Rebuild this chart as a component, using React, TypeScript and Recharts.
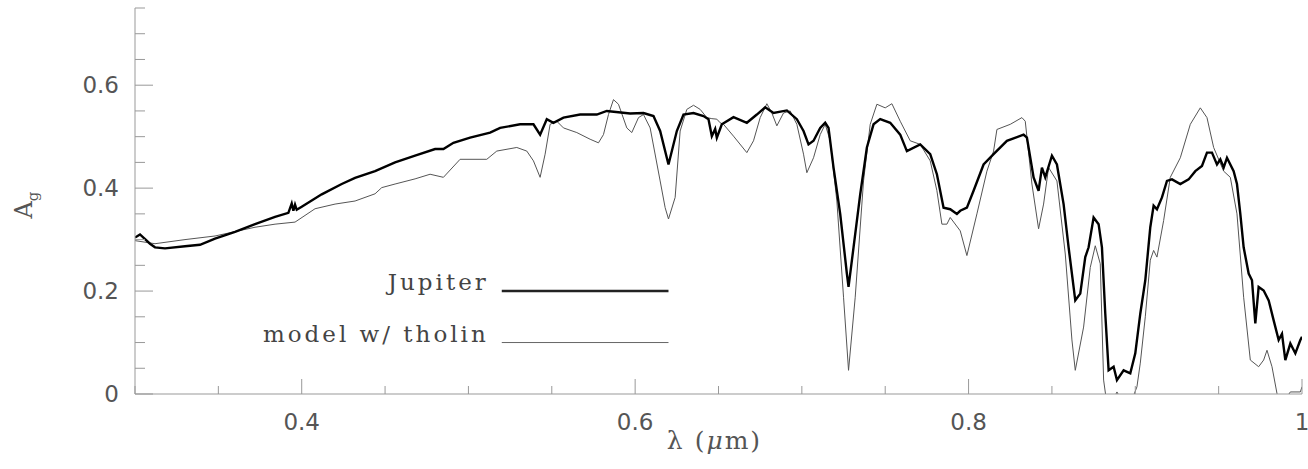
import React from 'react';
import { LineChart, Line, XAxis, YAxis, ReferenceLine } from 'recharts';

// Wavelength (micron) and geometric albedo for Jupiter (observed)
const jupiterLambda = [
  0.300, 0.303, 0.309, 0.312, 0.318, 0.330, 0.339, 0.348, 0.360, 0.372,
  0.384, 0.392, 0.394, 0.395, 0.396, 0.397, 0.400, 0.412, 0.424, 0.432,
  0.444, 0.456, 0.468, 0.480, 0.485, 0.491, 0.501, 0.513, 0.519, 0.531,
  0.539, 0.543, 0.547, 0.551, 0.557, 0.567, 0.577, 0.583, 0.597, 0.605,
  0.611, 0.615, 0.620, 0.625, 0.629, 0.635, 0.641, 0.644, 0.646, 0.648,
  0.649, 0.652, 0.659, 0.667, 0.673, 0.678, 0.683, 0.691, 0.697, 0.701,
  0.704, 0.707, 0.711, 0.714, 0.716, 0.719, 0.723, 0.727, 0.728, 0.731,
  0.735, 0.739, 0.743, 0.747, 0.753, 0.759, 0.763, 0.771, 0.777, 0.781,
  0.785, 0.789, 0.793, 0.795, 0.799, 0.803, 0.809, 0.815, 0.823, 0.833,
  0.835, 0.839, 0.842, 0.844, 0.846, 0.850, 0.853, 0.857, 0.860, 0.864,
  0.867, 0.870, 0.872, 0.875, 0.878, 0.880, 0.882, 0.884, 0.887, 0.889,
  0.893, 0.897, 0.900, 0.903, 0.906, 0.909, 0.911, 0.913, 0.916, 0.919,
  0.922, 0.927, 0.932, 0.936, 0.940, 0.943, 0.946, 0.949, 0.951, 0.953,
  0.955, 0.959, 0.961, 0.963, 0.965, 0.968, 0.970, 0.972, 0.974, 0.977,
  0.980, 0.983, 0.986, 0.988, 0.990, 0.993, 0.996, 0.999, 1.000,
];
const jupiterAlbedo = [
  0.304, 0.310, 0.292, 0.285, 0.283, 0.287, 0.290, 0.302, 0.315, 0.330,
  0.344, 0.352, 0.370, 0.356, 0.368, 0.358, 0.364, 0.388, 0.408, 0.420,
  0.433, 0.450, 0.463, 0.476, 0.476, 0.488, 0.498, 0.508, 0.517, 0.524,
  0.524, 0.504, 0.534, 0.527, 0.537, 0.543, 0.543, 0.550, 0.545, 0.546,
  0.540, 0.511, 0.446, 0.511, 0.543, 0.546, 0.540, 0.534, 0.501, 0.515,
  0.498, 0.524, 0.538, 0.527, 0.543, 0.557, 0.546, 0.551, 0.534, 0.511,
  0.485, 0.492, 0.517, 0.527, 0.517, 0.440, 0.350, 0.234, 0.208, 0.285,
  0.388, 0.479, 0.524, 0.534, 0.527, 0.504, 0.472, 0.485, 0.466, 0.427,
  0.362, 0.359, 0.350, 0.356, 0.362, 0.395, 0.446, 0.466, 0.492, 0.504,
  0.498, 0.421, 0.395, 0.440, 0.421, 0.463, 0.446, 0.369, 0.285, 0.182,
  0.195, 0.266, 0.285, 0.343, 0.330, 0.285, 0.156, 0.046, 0.053, 0.027,
  0.046, 0.040, 0.079, 0.156, 0.221, 0.324, 0.366, 0.359, 0.382, 0.414,
  0.417, 0.408, 0.417, 0.433, 0.443, 0.469, 0.469, 0.446, 0.456, 0.440,
  0.459, 0.433, 0.408, 0.350, 0.285, 0.234, 0.221, 0.137, 0.208, 0.201,
  0.182, 0.143, 0.105, 0.117, 0.066, 0.098, 0.079, 0.105, 0.111,
];

// Model with tholin
const modelLambda = [
  0.300, 0.312, 0.330, 0.348, 0.372, 0.384, 0.396, 0.408, 0.420, 0.432,
  0.444, 0.448, 0.456, 0.468, 0.477, 0.485, 0.495, 0.511, 0.517, 0.529,
  0.535, 0.539, 0.543, 0.546, 0.549, 0.553, 0.557, 0.565, 0.573, 0.578,
  0.581, 0.584, 0.587, 0.590, 0.595, 0.598, 0.602, 0.605, 0.609, 0.615,
  0.618, 0.620, 0.624, 0.627, 0.631, 0.635, 0.639, 0.643, 0.646, 0.649,
  0.651, 0.653, 0.659, 0.667, 0.671, 0.675, 0.679, 0.682, 0.685, 0.689,
  0.693, 0.697, 0.701, 0.703, 0.707, 0.711, 0.714, 0.717, 0.721, 0.725,
  0.728, 0.732, 0.737, 0.741, 0.745, 0.750, 0.754, 0.759, 0.765, 0.771,
  0.777, 0.781, 0.784, 0.787, 0.789, 0.795, 0.799, 0.805, 0.811, 0.815,
  0.817, 0.825, 0.832, 0.834, 0.838, 0.842, 0.845, 0.848, 0.853, 0.858,
  0.862, 0.864, 0.869, 0.873, 0.876, 0.879, 0.881, 0.883, 0.887, 0.889,
  0.893, 0.897, 0.901, 0.903, 0.906, 0.909, 0.911, 0.913, 0.917, 0.921,
  0.927, 0.933, 0.939, 0.943, 0.947, 0.953, 0.957, 0.961, 0.965, 0.969,
  0.974, 0.977, 0.979, 0.982, 0.985, 0.988, 0.993, 0.999, 1.000,
];
const modelAlbedo = [
  0.298, 0.292, 0.300, 0.307, 0.324, 0.330, 0.334, 0.360, 0.369, 0.375,
  0.389, 0.401, 0.408, 0.418, 0.427, 0.421, 0.456, 0.456, 0.472, 0.479,
  0.472, 0.453, 0.421, 0.466, 0.524, 0.530, 0.517, 0.508, 0.495, 0.488,
  0.504, 0.543, 0.572, 0.563, 0.517, 0.508, 0.537, 0.543, 0.517, 0.414,
  0.362, 0.340, 0.382, 0.511, 0.553, 0.561, 0.553, 0.537, 0.535, 0.534,
  0.527, 0.524, 0.501, 0.469, 0.492, 0.537, 0.564, 0.546, 0.521, 0.546,
  0.550, 0.524, 0.466, 0.430, 0.459, 0.504, 0.524, 0.492, 0.375, 0.188,
  0.046, 0.188, 0.414, 0.524, 0.563, 0.556, 0.564, 0.530, 0.492, 0.485,
  0.453, 0.395, 0.330, 0.330, 0.343, 0.317, 0.269, 0.350, 0.433, 0.472,
  0.514, 0.524, 0.537, 0.530, 0.408, 0.321, 0.369, 0.440, 0.414, 0.272,
  0.105, 0.046, 0.130, 0.246, 0.288, 0.253, 0.027, -0.020, -0.010, 0.004,
  -0.020, -0.020, 0.014, 0.060, 0.150, 0.260, 0.279, 0.266, 0.337, 0.421,
  0.459, 0.524, 0.556, 0.537, 0.479, 0.433, 0.421, 0.350, 0.188, 0.066,
  0.053, 0.066, 0.085, 0.053, 0.001, -0.020, 0.004, 0.004, 0.014,
];

const xTicks = [0.3, 0.35, 0.4, 0.45, 0.5, 0.55, 0.6, 0.65, 0.7, 0.75, 0.8, 0.85, 0.9, 0.95, 1.0];
const yTicks = [0, 0.05, 0.1, 0.15, 0.2, 0.25, 0.3, 0.35, 0.4, 0.45, 0.5, 0.55, 0.6, 0.65, 0.7, 0.75];
const seriesNames = ['Jupiter', 'model w/ tholin'];

const jupiterData = jupiterLambda.map((x, i) => ({ x, y: jupiterAlbedo[i] }));
const modelData = modelLambda.map((x, i) => ({ x, y: modelAlbedo[i] }));

const AXIS = '#999';
const TXT = '#555';
const NUM_FONT = 'DejaVu Sans';
const SERIF = 'DejaVu Serif';

const isMajor = (v: number) => Math.abs(v / 0.2 - Math.round(v / 0.2)) < 1e-6;
const fmt = (v: number) => (Math.abs(v - 1) < 1e-9 ? '1' : Math.abs(v) < 1e-9 ? '0' : v.toFixed(1));

const BottomTick = (p: any) => {
  const v = p.payload.value;
  const m = isMajor(v);
  return (
    <g>
      <line x1={p.x} x2={p.x} y1={p.y} y2={p.y - (m ? 15 : 8)} stroke={AXIS} />
      {m && (
        <text x={p.x} y={p.y + 36} textAnchor="middle" fontFamily={NUM_FONT} fontSize={23} fill={TXT}>
          {fmt(v)}
        </text>
      )}
    </g>
  );
};
const TopTick = (p: any) => {
  const m = isMajor(p.payload.value);
  return <line x1={p.x} x2={p.x} y1={p.y} y2={p.y + (m ? 15 : 8)} stroke={AXIS} />;
};
const LeftTick = (p: any) => {
  const v = p.payload.value;
  const m = isMajor(v);
  return (
    <g>
      <line x1={p.x} x2={p.x + (m ? 18 : 10)} y1={p.y} y2={p.y} stroke={AXIS} />
      {m && (
        <text x={p.x - 16} y={p.y + 8} textAnchor="end" fontFamily={NUM_FONT} fontSize={23} fill={TXT}>
          {fmt(v)}
        </text>
      )}
    </g>
  );
};
const RightTick = (p: any) => {
  const m = isMajor(p.payload.value);
  return <line x1={p.x} x2={p.x - (m ? 18 : 10)} y1={p.y} y2={p.y} stroke={AXIS} />;
};

const legendLabel = (text: string) => (props: any) => {
  const vb = props.viewBox || {};
  return (
    <text x={vb.x - 13} y={vb.y - 1} textAnchor="end" fontFamily={SERIF} fontSize={23} letterSpacing={3} fill="#444">
      {text}
    </text>
  );
};

const XTitle = (props: any) => {
  const vb = props.viewBox || {};
  return (
    <text x={vb.x + vb.width / 2 - 4} y={vb.y + 55} textAnchor="middle" fontFamily={SERIF} fontSize={25} letterSpacing={2} fill={TXT}>
      λ  (<tspan fontStyle="italic">μ</tspan>m)
    </text>
  );
};
const YTitle = () => {
  const cx = 32;
  const cy = 205;
  return (
    <text x={cx} y={cy} transform={`rotate(-90 ${cx} ${cy})`} textAnchor="middle" fontFamily={SERIF} fontSize={24} fill={TXT}>
      A<tspan fontSize={15} dy={6}>g</tspan>
    </text>
  );
};

export default function App() {
  return (
    <div style={{ position: 'absolute', left: 0, top: 0, background: '#fff' }}>
      <LineChart width={1308} height={469} margin={{ top: 8, right: 6, left: 0, bottom: 0 }}>
        <XAxis
          xAxisId={0}
          dataKey="x"
          type="number"
          domain={[0.3, 1.0]}
          allowDataOverflow
          ticks={xTicks}
          interval={0}
          height={75}
          tickSize={0}
          tickMargin={0}
          tickLine={false}
          tick={BottomTick}
          axisLine={{ stroke: AXIS }}
          label={XTitle}
        />
        <XAxis
          xAxisId="top"
          orientation="top"
          dataKey="x"
          type="number"
          domain={[0.3, 1.0]}
          allowDataOverflow
          ticks={xTicks}
          interval={0}
          height={0}
          tickSize={0}
          tickMargin={0}
          tickLine={false}
          tick={TopTick}
          axisLine={{ stroke: AXIS }}
        />
        <YAxis
          yAxisId={0}
          type="number"
          domain={[0, 0.75]}
          allowDataOverflow
          ticks={yTicks}
          interval={0}
          width={135}
          tickSize={0}
          tickMargin={0}
          tickLine={false}
          tick={LeftTick}
          axisLine={{ stroke: AXIS }}
          label={YTitle}
        />
        <YAxis
          yAxisId="right"
          orientation="right"
          type="number"
          domain={[0, 0.75]}
          allowDataOverflow
          ticks={yTicks}
          interval={0}
          width={0}
          tickSize={0}
          tickMargin={0}
          tickLine={false}
          tick={RightTick}
          axisLine={{ stroke: AXIS }}
        />
        <Line
          data={modelData}
          dataKey="y"
          type="linear"
          stroke="#555"
          strokeWidth={1}
          dot={false}
          isAnimationActive={false}
          name={seriesNames[1]}
        />
        <Line
          data={jupiterData}
          dataKey="y"
          type="linear"
          stroke="#000"
          strokeWidth={2.4}
          dot={false}
          isAnimationActive={false}
          name={seriesNames[0]}
        />
        <ReferenceLine
          segment={[{ x: 0.52, y: 0.2 }, { x: 0.62, y: 0.2 }]}
          stroke="#222"
          strokeWidth={2.4}
          label={legendLabel(seriesNames[0])}
        />
        <ReferenceLine
          segment={[{ x: 0.52, y: 0.1 }, { x: 0.62, y: 0.1 }]}
          stroke="#666"
          strokeWidth={1}
          label={legendLabel(seriesNames[1])}
        />
      </LineChart>
    </div>
  );
}
